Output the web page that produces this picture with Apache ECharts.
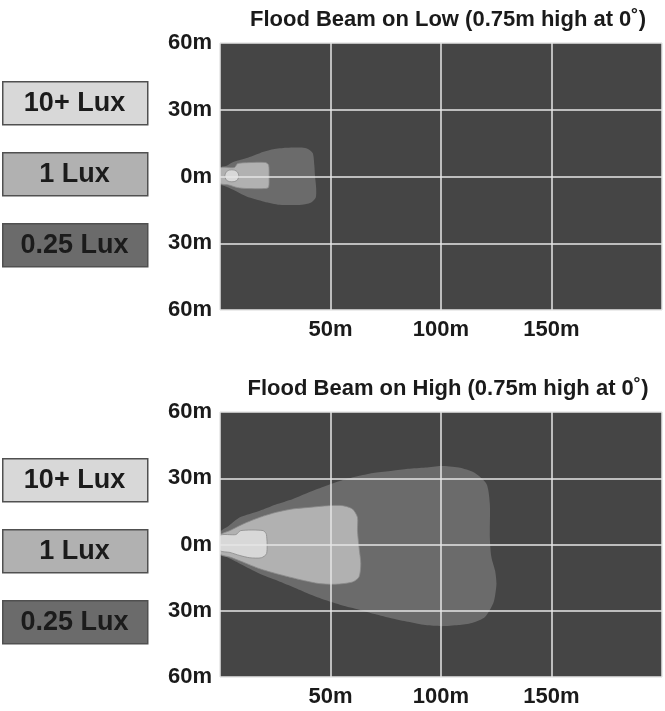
<!DOCTYPE html>
<html>
<head>
<meta charset="utf-8">
<script src="https://cdn.jsdelivr.net/npm/echarts@6/dist/echarts.min.js"></script>
<style>
html,body{margin:0;padding:0;background:#fff;}
#chart{width:665px;height:711px;}
</style>
</head>
<body>
<div id="chart"></div>
<script>
// ---- Data (metres: x = distance ahead, y = lateral offset) ----
var titles = ['Flood Beam on Low (0.75m high at 0\u02DA)', 'Flood Beam on High (0.75m high at 0\u02DA)'];
var legendLabels = ['10+ Lux', '1 Lux', '0.25 Lux'];
var xTicks = [0, 50, 100, 150, 200];
var yTicks = [-60, -30, 0, 30, 60];

// Low beam isolux contours
var low025 = [[0,3.8],[3,4.8],[6,6.5],[12,8.3],[18,10.5],[24,12.2],[30,12.9],[37,13.0],[40,12.3],[42,10.5],[42.7,5],[43,0],[43.5,-5],[43.3,-9.5],[41,-11.8],[37,-12.7],[27,-12.7],[20,-11.3],[12,-9],[6,-6],[2,-4.3],[0,-3.7]];
var low1 = [[0,3.8],[6.5,4.0],[8,5.8],[12,6.2],[20.5,6.3],[22,5.2],[22.2,0],[22,-4.8],[20.5,-5.4],[12,-5.4],[8,-5],[4,-3.8],[0,-3.0]];
var low10 = [[2.2,0.3],[2.8,2.0],[4.3,2.9],[6.4,2.9],[7.9,2.0],[8.5,0.3],[7.9,-1.5],[6.4,-2.3],[4.3,-2.3],[2.8,-1.5]];

// High beam isolux contours
var high025 = [[0,5.5],[4,8.5],[9,12.3],[18,15.3],[25,18],[33,20.6],[40,23.5],[48,26.6],[55,29],[63,31.1],[70,32.5],[78,33.4],[85,34.3],[93,34.9],[100,35.6],[108,34.9],[115,32.6],[120.6,27.4],[122.1,18.4],[122.1,3.3],[122.8,-5.7],[124.5,-12],[125.1,-17.7],[124.5,-23],[123.6,-26.7],[119.9,-32.8],[114,-35.5],[107.9,-36.5],[100.4,-37],[92.9,-36.5],[85,-35],[77.9,-33.5],[70,-31.5],[63,-29.5],[55,-27.5],[48,-25.3],[40,-22.3],[33,-19.3],[25,-16],[18,-13.2],[9,-8.7],[3,-5.7],[0,-4.6]];
var high1 = [[0,4.1],[4.5,6.3],[10.5,9.3],[18,12.3],[25.5,14.6],[32.9,16.1],[40.4,16.8],[49.4,17.6],[55.4,17.6],[59.9,16.1],[62.2,12.3],[62.2,6.3],[62.9,-1.2],[63.7,-8.7],[62.9,-14.7],[59.9,-17.0],[52.4,-18.0],[44.9,-17.7],[37.4,-16.2],[25.5,-13.2],[18,-11.0],[10.5,-8.0],[4.5,-5.7],[0,-4.2]];
var high10 = [[0,4.1],[7.2,4.5],[9.4,6.3],[19.5,6.3],[21.0,4.5],[21.1,-4.1],[18.7,-6.0],[13.5,-6.0],[9.0,-5.0],[4.5,-3.6],[0,-2.7]];

// ---- Styles ----
var FONT = '"Liberation Sans", Arial, sans-serif';
var C_BG = '#454545', C_025 = '#6b6b6b', C_1 = '#b1b1b1', C_10 = '#d8d8d8';

var chart = echarts.init(document.getElementById('chart'), null, {renderer: 'canvas'});

function polySeries(points, idx, fill, stroke) {
  return {
    type: 'custom',
    xAxisIndex: idx,
    yAxisIndex: idx,
    coordinateSystem: 'cartesian2d',
    data: [points[0]],
    silent: true,
    clip: true,
    z: 2,
    renderItem: function (params, api) {
      var pts = points.map(function (p) { return api.coord(p); });
      return {
        type: 'polygon',
        shape: {points: pts, smooth: 0.25},
        style: {fill: fill, stroke: stroke || null, lineWidth: stroke ? 0.8 : 0}
      };
    }
  };
}

var grids = [
  {left: 220, right: 0, top: 43, height: 267},
  {left: 220, right: 0, top: 412, height: 265}
];

function xAxis(idx) {
  return {
    type: 'value', gridIndex: idx, min: xTicks[0], max: xTicks[xTicks.length - 1], interval: 50,
    z: 5,
    axisLine: {show: false}, axisTick: {show: false},
    splitLine: {show: true, lineStyle: {color: '#e6e6e6', width: 1.5}},
    axisLabel: {
      show: true, margin: 9, fontFamily: FONT, fontWeight: 'bold', fontSize: 22, color: '#1a1a1a',
      formatter: function (v) { return (v === xTicks[0] || v === xTicks[xTicks.length - 1]) ? '' : v + 'm'; }
    }
  };
}
function yAxis(idx) {
  return {
    type: 'value', gridIndex: idx, min: yTicks[0], max: yTicks[yTicks.length - 1], interval: 30,
    z: 5,
    axisLine: {show: false}, axisTick: {show: false},
    splitLine: {show: true, lineStyle: {color: '#e6e6e6', width: 1.5}},
    axisLabel: {
      show: true, margin: 8, fontFamily: FONT, fontWeight: 'bold', fontSize: 22, color: '#1a1a1a',
      padding: [3, 0, 0, 0],
      formatter: function (v) { return Math.abs(v) + 'm'; }
    }
  };
}

// legend key boxes (static key on the left of each panel)
var legendFills = [C_10, C_1, C_025];
var legendTops = [[81, 152, 223], [458, 529, 600]];
var graphics = [];
legendTops.forEach(function (tops) {
  tops.forEach(function (t, i) {
    graphics.push({
      type: 'rect', left: 2, top: t, z: 10,
      shape: {width: 145, height: 43},
      style: {fill: legendFills[i], stroke: '#505050', lineWidth: 1.5}
    });
    graphics.push({
      type: 'text', z: 11,
      x: 74.5, y: t + 22.5,
      style: {
        text: legendLabels[i], fill: '#1b1b1b', font: 'bold 27px ' + FONT,
        textAlign: 'center', textVerticalAlign: 'middle'
      }
    });
  });
});

chart.setOption({
  backgroundColor: '#ffffff',
  animation: false,
  title: [
    {text: titles[0], left: 443, top: 4, textAlign: 'center',
     textStyle: {fontFamily: FONT, fontWeight: 'bold', fontSize: 22, color: '#1a1a1a'}},
    {text: titles[1], left: 443, top: 373, textAlign: 'center',
     textStyle: {fontFamily: FONT, fontWeight: 'bold', fontSize: 22, color: '#1a1a1a'}}
  ],
  grid: grids.map(function (g) {
    return Object.assign({show: true, backgroundColor: C_BG, borderWidth: 0}, g);
  }),
  xAxis: [xAxis(0), xAxis(1)],
  yAxis: [yAxis(0), yAxis(1)],
  graphic: graphics,
  series: [
    polySeries(low025, 0, C_025),
    polySeries(low1, 0, C_1, '#8a8a8a'),
    polySeries(low10, 0, C_10, '#8a8a8a'),
    polySeries(high025, 1, C_025),
    polySeries(high1, 1, C_1, '#8a8a8a'),
    polySeries(high10, 1, C_10, '#8a8a8a')
  ]
});
</script>
</body>
</html>
